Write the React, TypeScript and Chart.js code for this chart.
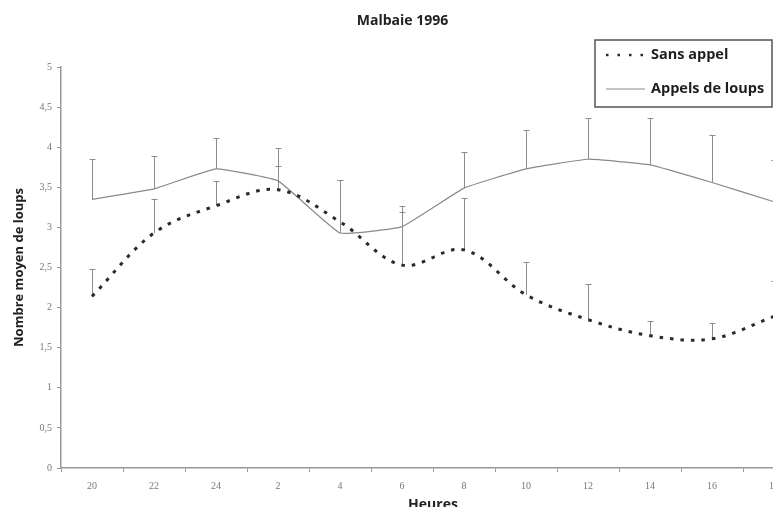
import React, { useEffect, useRef } from "react";
import { Chart, registerables } from "chart.js";

Chart.register(...registerables);

const hours = ["20", "22", "24", "2", "4", "6", "8", "10", "12", "14", "16", "18"];
const sansAppel = [2.14, 2.93, 3.27, 3.47, 3.07, 2.53, 2.72, 2.16, 1.85, 1.65, 1.61, 1.89];
const sansAppelErrTop = [2.48, 3.35, 3.58, 3.76, 3.59, 3.19, 3.37, 2.57, 2.3, 1.83, 1.81, 2.33];
const appels = [3.35, 3.48, 3.73, 3.58, 2.93, 3.01, 3.49, 3.73, 3.85, 3.78, 3.56, 3.32];
const appelsErrTop = [3.85, 3.89, 4.11, 3.99, 3.59, 3.27, 3.94, 4.21, 4.37, 4.37, 4.15, 3.84];
const yTicks = ["0", "0,5", "1", "1,5", "2", "2,5", "3", "3,5", "4", "4,5", "5"];

const errTops = [sansAppelErrTop, appelsErrTop];

const errorBarPlugin = {
  id: "errorBars",
  beforeDatasetsDraw(chart: any) {
    const ctx = chart.ctx;
    const x = chart.scales.x;
    const y = chart.scales.y;
    ctx.save();
    ctx.strokeStyle = "#8c8c8c";
    ctx.lineWidth = 1;
    chart.data.datasets.forEach((ds: any, di: number) => {
      const tops = errTops[di];
      ds.data.forEach((v: number, i: number) => {
        const px = Math.round(x.getPixelForValue(i)) + 0.5;
        const p0 = y.getPixelForValue(v);
        const p1 = Math.round(y.getPixelForValue(tops[i])) + 0.5;
        ctx.beginPath();
        ctx.moveTo(px, p0);
        ctx.lineTo(px, p1);
        ctx.moveTo(px - 3, p1);
        ctx.lineTo(px + 3, p1);
        ctx.stroke();
      });
    });
    ctx.restore();
  },
};

const legendBoxPlugin = {
  id: "legendBox",
  afterDraw(chart: any) {
    const ctx = chart.ctx;
    const a = chart.chartArea;
    const left = a.right - 210;
    const right = a.right - 33;
    const top = a.top - 27;
    const bottom = a.top + 40;
    ctx.save();
    ctx.fillStyle = "#ffffff";
    ctx.fillRect(left, top, right - left, bottom - top);
    ctx.strokeStyle = "#555555";
    ctx.lineWidth = 1.5;
    ctx.strokeRect(left, top, right - left, bottom - top);
    const ds = chart.data.datasets;
    const rows = [top + 15, top + 49];
    ctx.font = "bold 14.5px 'Open Sans'";
    ctx.textBaseline = "middle";
    ctx.textAlign = "left";
    ds.forEach((d: any, i: number) => {
      const yy = rows[i];
      ctx.beginPath();
      ctx.strokeStyle = d.borderColor;
      ctx.lineWidth = i === 0 ? 2.5 : 1.2;
      ctx.setLineDash(i === 0 ? [2.5, 9] : []);
      ctx.moveTo(left + 11, yy);
      ctx.lineTo(left + 50, yy);
      ctx.stroke();
      ctx.setLineDash([]);
      ctx.fillStyle = "#1e1e1e";
      ctx.fillText(d.label, left + 56, yy);
    });
    ctx.restore();
  },
};

export default function App() {
  const ref = useRef<HTMLCanvasElement>(null);
  useEffect(() => {
    if (!ref.current) return;
    const chart = new Chart(ref.current, {
      type: "line",
      data: {
        labels: hours,
        datasets: [
          {
            label: "Sans appel",
            data: sansAppel,
            borderColor: "#2a2a2a",
            borderWidth: 3,
            borderDash: [3.5, 7],
            borderCapStyle: "butt",
            tension: 0.35,
            pointRadius: 0,
            fill: false,
          },
          {
            label: "Appels de loups",
            data: appels,
            borderColor: "#8a8a8a",
            borderWidth: 1.2,
            tension: 0.1,
            pointRadius: 0,
            fill: false,
          },
        ],
      },
      options: {
        responsive: false,
        animation: false,
        layout: { padding: { top: 0, right: 25, left: 0, bottom: 0 } },
        plugins: {
          legend: { display: false },
          tooltip: { enabled: false },
          title: {
            display: true,
            text: "Malbaie 1996",
            color: "#222222",
            font: { family: "'Open Sans'", size: 14, weight: "bold" },
            padding: { top: 13, bottom: 37.2 },
          },
        },
        scales: {
          x: {
            type: "category",
            offset: true,
            grid: {
              offset: true,
              drawOnChartArea: false,
              drawTicks: true,
              tickLength: 4,
              color: "#9a9a9a",
            },
            border: { color: "#9a9a9a", width: 1.5 },
            ticks: {
              color: "#777777",
              font: { family: "'Liberation Serif'", size: 10 },
              padding: 8,
              maxRotation: 0,
            },
            title: {
              display: true,
              text: "Heures",
              color: "#222222",
              font: { family: "'Open Sans'", size: 14, weight: "bold" },
              padding: { top: 0, bottom: -6 },
            },
            afterFit: (s: any) => {
              s.height = 39;
            },
          },
          y: {
            min: 0,
            max: 5,
            grid: {
              drawOnChartArea: false,
              drawTicks: true,
              tickLength: 4,
              color: "#9a9a9a",
            },
            border: { color: "#9a9a9a", width: 1.5 },
            ticks: {
              stepSize: 0.5,
              color: "#777777",
              font: { family: "'Liberation Serif'", size: 10 },
              padding: 5,
              callback: (_v: any, i: number) => yTicks[i],
            },
            title: {
              display: true,
              text: "Nombre moyen de loups",
              color: "#222222",
              font: { family: "'Open Sans'", size: 13, weight: "bold" },
              padding: { top: 11, bottom: 0 },
            },
            afterFit: (s: any) => {
              s.width = 61;
            },
          },
        },
      },
      plugins: [errorBarPlugin, legendBoxPlugin],
    });
    return () => chart.destroy();
  }, []);
  return (
    <div
      style={{
        position: "fixed",
        left: 0,
        top: 0,
        width: 773,
        height: 507,
        overflow: "hidden",
        background: "#ffffff",
      }}
    >
      <canvas ref={ref} width={830} height={507} style={{ width: 830, height: 507, display: "block" }} />
    </div>
  );
}
